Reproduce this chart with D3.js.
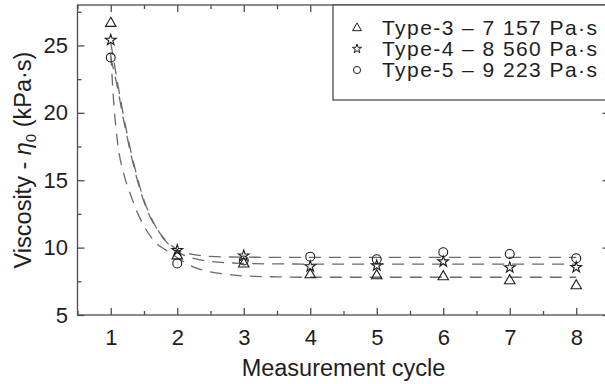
<!DOCTYPE html>
<html>
<head>
<meta charset="utf-8">
<script src="https://cdn.jsdelivr.net/npm/d3@7"></script>
<style>
  html, body { margin: 0; padding: 0; background: #fff; }
  svg { display: block; font-family: "Liberation Sans", Arial, Helvetica, sans-serif; }
</style>
</head>
<body>
<svg id="chart" width="605" height="384"></svg>
<script>
// ---- data ----
const cycles = [1, 2, 3, 4, 5, 6, 7, 8];
const type3 = [26.7, 9.45, 8.85, 8.05, 7.97, 7.9, 7.6, 7.23];
const type4 = [25.4, 9.8, 9.4, 8.6, 8.67, 8.96, 8.52, 8.54];
const type5 = [24.1, 8.82, 9.05, 9.33, 9.14, 9.66, 9.53, 9.21];

const fit3 = [[1, 24.4], [1.05, 20.4], [1.1, 17.9], [1.2, 15.4], [1.3, 13.9], [1.4, 12.6], [1.5, 11.6],
              [1.65, 10.5], [1.85, 9.75], [2, 9.25], [2.25, 8.55], [2.5, 8.2], [2.75, 8.02], [3, 7.9],
              [3.5, 7.83], [4, 7.8], [5, 7.8], [6, 7.8], [7, 7.8], [8, 7.8]];
const fit4 = [[1, 25.2], [1.1, 22.3], [1.2, 19.6], [1.3, 17.2], [1.4, 15.2], [1.5, 13.5], [1.6, 12.3],
              [1.75, 10.95], [1.9, 10.1], [2, 9.7], [2.25, 9.2], [2.5, 8.97], [3, 8.83], [3.5, 8.79],
              [4, 8.78], [5, 8.78], [6, 8.78], [7, 8.78], [8, 8.78]];
const fit5 = [[1, 24.1], [1.1, 21.9], [1.2, 19.3], [1.3, 17.0], [1.4, 15.0], [1.5, 13.4], [1.6, 12.2],
              [1.75, 11.0], [1.9, 10.2], [2, 9.85], [2.25, 9.48], [2.5, 9.35], [3, 9.29], [3.5, 9.28],
              [4, 9.28], [5, 9.28], [6, 9.28], [7, 9.28], [8, 9.28]];

const xMajor = [1, 2, 3, 4, 5, 6, 7, 8];
const xMinor = [0.5, 1.5, 2.5, 3.5, 4.5, 5.5, 6.5, 7.5, 8.5];
const yMajor = [5, 10, 15, 20, 25];
const yMinor = [7.5, 12.5, 17.5, 22.5, 27.5];

const legendLabels = ["Type-3 \u2013 7 157 Pa\u00b7s", "Type-4 \u2013 8 560 Pa\u00b7s", "Type-5 \u2013 9 223 Pa\u00b7s"];

// ---- layout ----
const L = 77.5, R = 609.5, T = 5, B = 315;
const svg = d3.select("#chart");
const x = d3.scaleLinear().domain([0.5, 8.5]).range([L, R]);
const y = d3.scaleLinear().domain([5, 28]).range([B, T]);

const axisColor = "#4d4d4d";
const inkColor = "#1e1e1e";

// frame
svg.append("rect").attr("x", L).attr("y", T).attr("width", R - L).attr("height", B - T)
  .attr("fill", "none").attr("stroke", axisColor).attr("stroke-width", 1.3);

function styleAxis(g) {
  g.select(".domain").remove();
  g.selectAll(".tick line").attr("stroke", axisColor).attr("stroke-width", 1.3);
  g.selectAll(".tick text").attr("fill", inkColor).style("font-size", "22px")
    .style("font-family", "'Liberation Sans', Arial, sans-serif");
}

// bottom
svg.append("g").attr("transform", `translate(0,${B})`)
  .call(d3.axisBottom(x).tickValues(xMajor).tickSize(-7).tickPadding(14).tickFormat(d3.format("d")))
  .call(styleAxis);
svg.append("g").attr("transform", `translate(0,${B})`)
  .call(d3.axisBottom(x).tickValues(xMinor).tickSize(-4).tickFormat(""))
  .call(styleAxis);
// top
svg.append("g").attr("transform", `translate(0,${T})`)
  .call(d3.axisTop(x).tickValues(xMajor).tickSize(-7).tickFormat(""))
  .call(styleAxis);
svg.append("g").attr("transform", `translate(0,${T})`)
  .call(d3.axisTop(x).tickValues(xMinor).tickSize(-4).tickFormat(""))
  .call(styleAxis);
// left
svg.append("g").attr("transform", `translate(${L},0)`)
  .call(d3.axisLeft(y).tickValues(yMajor).tickSize(-7).tickPadding(9.5).tickFormat(d3.format("d")))
  .call(styleAxis);
svg.append("g").attr("transform", `translate(${L},0)`)
  .call(d3.axisLeft(y).tickValues(yMinor).tickSize(-4).tickFormat(""))
  .call(styleAxis);
// right
svg.append("g").attr("transform", `translate(${R},0)`)
  .call(d3.axisRight(y).tickValues(yMajor).tickSize(-7).tickFormat(""))
  .call(styleAxis);
svg.append("g").attr("transform", `translate(${R},0)`)
  .call(d3.axisRight(y).tickValues(yMinor).tickSize(-4).tickFormat(""))
  .call(styleAxis);

// axis titles
svg.append("text").attr("x", (L + R) / 2).attr("y", 376).attr("text-anchor", "middle")
  .attr("fill", inkColor).style("font-size", "23.5px").text("Measurement cycle");

const yt = svg.append("text").attr("transform", "translate(31,160) rotate(-90)")
  .attr("text-anchor", "middle").attr("fill", inkColor).style("font-size", "23.5px");
yt.append("tspan").text("Viscosity - ");
yt.append("tspan").style("font-style", "italic").text("\u03b7");
yt.append("tspan").attr("dy", 5).style("font-size", "15px").text("0");
yt.append("tspan").attr("dy", -5).text(" (kPa\u00b7s)");

// fitted dashed curves
const line = d3.line().x(d => x(d[0])).y(d => y(d[1])).curve(d3.curveMonotoneX);
[fit3, fit4, fit5].forEach(f => {
  svg.append("path").attr("d", line(f)).attr("fill", "none")
    .attr("stroke", "#6a6a6a").attr("stroke-width", 1.3).attr("stroke-dasharray", "12,8");
});

// markers
const symTri = d3.symbol().type(d3.symbolTriangle).size(48);
const symStar = d3.symbol().type(d3.symbolStar).size(36);
const symCirc = d3.symbol().type(d3.symbolCircle).size(62);
const seriesDefs = [
  { vals: type3, sym: symTri, dy: 0.8 },
  { vals: type4, sym: symStar, dy: 0 },
  { vals: type5, sym: symCirc, dy: 0 }
];
seriesDefs.forEach(s => {
  svg.append("g").selectAll("path").data(cycles).join("path")
    .attr("transform", (c, i) => `translate(${x(c)},${y(s.vals[i]) + s.dy})`)
    .attr("d", s.sym())
    .attr("fill", "none").attr("stroke", inkColor).attr("stroke-width", 1.1);
});

// legend
const lg = svg.append("g");
lg.append("rect").attr("x", 333).attr("y", T).attr("width", 300).attr("height", 95)
  .attr("fill", "#fff").attr("stroke", axisColor).attr("stroke-width", 1.3);
const legSyms = [
  d3.symbol().type(d3.symbolTriangle).size(34),
  d3.symbol().type(d3.symbolStar).size(26),
  d3.symbol().type(d3.symbolCircle).size(40)
];
const rowY = [27.5, 48.8, 70];
legendLabels.forEach((t, i) => {
  lg.append("path").attr("transform", `translate(357,${rowY[i] + (i === 0 ? 0.6 : 0)})`)
    .attr("d", legSyms[i]()).attr("fill", "none").attr("stroke", inkColor).attr("stroke-width", 1);
  lg.append("text").attr("x", 382).attr("y", rowY[i] + 7).attr("fill", inkColor)
    .attr("textLength", 215).attr("lengthAdjust", "spacing")
    .style("font-size", "21px").text(t);
});
</script>
</body>
</html>
